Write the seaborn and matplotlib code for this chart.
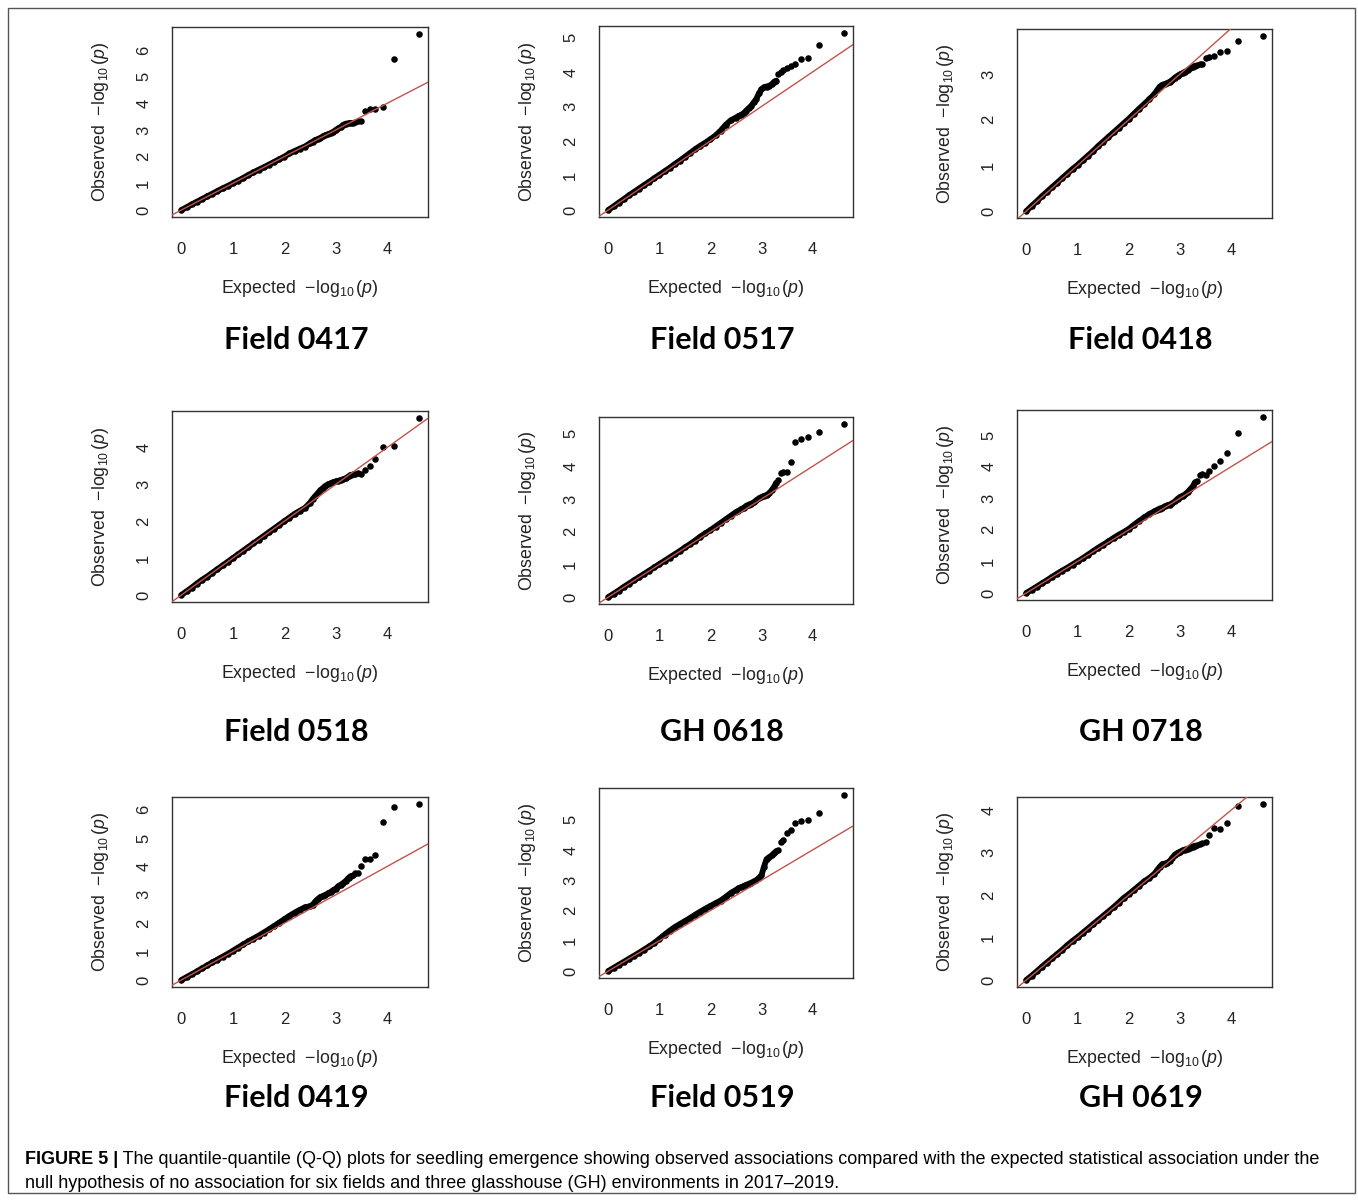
import matplotlib
matplotlib.use("Agg")
import matplotlib.pyplot as plt
import seaborn as sns
import pandas as pd
from matplotlib import font_manager
from matplotlib.patches import Rectangle

expected = [0.0, 0.1, 0.2, 0.3, 0.4, 0.5, 0.6, 0.7, 0.8, 0.9, 1.0, 1.1, 1.2, 1.3,
            1.4, 1.5, 1.6, 1.7, 1.8, 1.9, 2.0, 2.1, 2.2, 2.3, 2.4, 2.5, 2.55, 2.6,
            2.65, 2.7, 2.75, 2.8, 2.85, 2.9, 2.95, 3.0, 3.05, 3.1, 3.15, 3.2, 3.25,
            3.29, 3.33, 3.38, 3.43, 3.50, 3.57, 3.66, 3.77, 3.91, 4.13, 4.61]

# observed -log10(p), one list per environment
obs_field0417 = [0.0, 0.1, 0.21, 0.31, 0.41, 0.51, 0.61, 0.71, 0.81, 0.9, 1.0, 1.1, 1.2, 1.31,
                 1.41, 1.51, 1.6, 1.7, 1.8, 1.9, 2.0, 2.12, 2.21, 2.3, 2.38, 2.5, 2.56, 2.62,
                 2.66, 2.7, 2.76, 2.8, 2.84, 2.88, 2.93, 3.0, 3.06, 3.12, 3.2, 3.24, 3.25,
                 3.26, 3.28, 3.3, 3.32, 3.35, 3.73, 3.77, 3.8, 3.88, 5.68, 6.6]
obs_field0517 = [0.0, 0.1, 0.21, 0.31, 0.42, 0.52, 0.62, 0.72, 0.82, 0.92, 1.02, 1.12, 1.22, 1.33,
                 1.43, 1.54, 1.65, 1.76, 1.86, 1.95, 2.05, 2.16, 2.3, 2.47, 2.6, 2.68, 2.72, 2.76,
                 2.8, 2.88, 2.95, 3.02, 3.12, 3.22, 3.38, 3.5, 3.56, 3.58, 3.6, 3.64, 3.72,
                 3.75, 3.93, 4.0, 4.05, 4.12, 4.18, 4.22, 4.38, 4.41, 4.77, 5.13]
obs_field0418 = [0.0, 0.11, 0.21, 0.32, 0.42, 0.52, 0.62, 0.72, 0.82, 0.92, 1.01, 1.11, 1.21, 1.31,
                 1.42, 1.52, 1.62, 1.72, 1.82, 1.92, 2.02, 2.13, 2.24, 2.34, 2.45, 2.56, 2.64, 2.72,
                 2.76, 2.78, 2.8, 2.83, 2.87, 2.92, 2.96, 2.99, 3.02, 3.05, 3.08, 3.12, 3.15,
                 3.18, 3.2, 3.21, 3.22, 3.35, 3.37, 3.4, 3.48, 3.5, 3.72, 3.83]
obs_field0518 = [0.0, 0.1, 0.2, 0.31, 0.41, 0.5, 0.6, 0.7, 0.8, 0.9, 1.0, 1.1, 1.2, 1.3,
                 1.4, 1.5, 1.6, 1.7, 1.8, 1.9, 2.0, 2.1, 2.2, 2.28, 2.36, 2.5, 2.6, 2.68,
                 2.76, 2.84, 2.9, 2.96, 3.0, 3.03, 3.06, 3.08, 3.1, 3.12, 3.14, 3.17, 3.22,
                 3.26, 3.27, 3.28, 3.3, 3.28, 3.38, 3.5, 3.7, 4.02, 4.04, 4.8]
obs_gh0618 = [0.0, 0.1, 0.2, 0.31, 0.41, 0.51, 0.61, 0.71, 0.81, 0.91, 1.01, 1.11, 1.21, 1.31,
              1.41, 1.52, 1.62, 1.73, 1.85, 1.95, 2.05, 2.16, 2.27, 2.38, 2.49, 2.6, 2.64, 2.69,
              2.73, 2.79, 2.83, 2.86, 2.9, 2.96, 3.02, 3.06, 3.1, 3.12, 3.18, 3.27, 3.38,
              3.5, 3.58, 3.8, 3.82, 3.84, 4.12, 4.74, 4.84, 4.9, 5.05, 5.3]
obs_gh0718 = [0.0, 0.1, 0.2, 0.3, 0.4, 0.51, 0.61, 0.71, 0.8, 0.9, 1.0, 1.1, 1.21, 1.32,
              1.43, 1.53, 1.63, 1.74, 1.84, 1.93, 2.03, 2.16, 2.28, 2.39, 2.5, 2.58, 2.63, 2.67,
              2.7, 2.74, 2.77, 2.8, 2.84, 2.9, 2.98, 3.04, 3.08, 3.12, 3.2, 3.28, 3.38,
              3.5, 3.56, 3.74, 3.76, 3.74, 3.86, 4.03, 4.18, 4.42, 5.05, 5.57]
obs_field0419 = [0.0, 0.1, 0.2, 0.3, 0.41, 0.51, 0.62, 0.72, 0.82, 0.92, 1.03, 1.14, 1.25, 1.36,
                 1.46, 1.56, 1.67, 1.78, 1.9, 2.02, 2.14, 2.26, 2.37, 2.47, 2.56, 2.6, 2.65, 2.76,
                 2.85, 2.92, 2.96, 3.0, 3.05, 3.1, 3.16, 3.22, 3.3, 3.36, 3.42, 3.5, 3.6,
                 3.66, 3.7, 3.76, 3.78, 4.02, 4.27, 4.27, 4.4, 5.55, 6.08, 6.2]
obs_field0519 = [0.0, 0.1, 0.2, 0.3, 0.4, 0.5, 0.6, 0.71, 0.81, 0.93, 1.06, 1.2, 1.33, 1.45,
                 1.55, 1.65, 1.75, 1.86, 1.96, 2.06, 2.15, 2.24, 2.33, 2.45, 2.58, 2.68, 2.73, 2.77,
                 2.81, 2.85, 2.88, 2.92, 2.96, 3.0, 3.08, 3.16, 3.45, 3.7, 3.76, 3.82, 3.9,
                 3.96, 4.0, 4.28, 4.32, 4.56, 4.66, 4.88, 4.95, 4.98, 5.23, 5.82]
obs_gh0619 = [0.0, 0.1, 0.2, 0.31, 0.41, 0.51, 0.61, 0.71, 0.82, 0.92, 1.01, 1.11, 1.21, 1.31,
              1.41, 1.51, 1.61, 1.71, 1.82, 1.93, 2.02, 2.12, 2.22, 2.32, 2.4, 2.5, 2.58, 2.66,
              2.72, 2.74, 2.76, 2.8, 2.88, 2.95, 2.99, 3.02, 3.05, 3.07, 3.09, 3.11, 3.14,
              3.16, 3.18, 3.2, 3.22, 3.24, 3.4, 3.57, 3.56, 3.7, 4.1, 4.14]

panel_titles = ["Field 0417", "Field 0517", "Field 0418",
                "Field 0518", "GH 0618", "GH 0718",
                "Field 0419", "Field 0519", "GH 0619"]
panel_obs = [obs_field0417, obs_field0517, obs_field0418,
             obs_field0518, obs_gh0618, obs_gh0718,
             obs_field0419, obs_field0519, obs_gh0619]

caption_bold = "FIGURE 5 |"
caption_line1 = (" The quantile-quantile (Q-Q) plots for seedling emergence showing observed associations "
                 "compared with the expected statistical association under the")
caption_line2 = "null hypothesis of no association for six fields and three glasshouse (GH) environments in 2017\u20132019."

# ---- layout (pixel boxes of each plot region: left, top, right, bottom) ----
W, H = 1358, 1201
boxes = [(172, 27, 428, 217), (599, 26, 853, 217), (1017, 29, 1272, 218),
         (172, 411, 428, 602), (599, 417, 853, 604), (1017, 410, 1272, 600),
         (172, 797, 428, 987), (599, 788, 853, 978), (1017, 797, 1272, 987)]
title_y = [340, 732, 1098]
dense_end = 3.29  # below this the points overlap into a solid band

sns.set_style("white")
plt.rcParams["font.family"] = ["Liberation Sans", "DejaVu Sans"]
plt.rcParams["mathtext.fontset"] = "custom"
plt.rcParams["mathtext.rm"] = "Liberation Sans"
plt.rcParams["mathtext.it"] = "Liberation Sans:italic"

names = {f.name for f in font_manager.fontManager.ttflist}
cap_font = "Liberation Sans Narrow" if "Liberation Sans Narrow" in names else "Liberation Sans"
title_font = "Lato" if "Lato" in names else "DejaVu Sans"

fig = plt.figure(figsize=(W / 100, H / 100), dpi=100)

for i, (obs, title) in enumerate(zip(panel_obs, panel_titles)):
    l, t, r, b = boxes[i]
    ax = fig.add_axes([l / W, 1 - b / H, (r - l) / W, (b - t) / H])
    df = pd.DataFrame({"expected": expected, "observed": obs})
    dense = df[df["expected"] <= dense_end]
    # the thousands of overlapping points in the bulk form a thick band
    sns.lineplot(data=dense, x="expected", y="observed", ax=ax, color="black",
                 lw=4.2, solid_capstyle="round", sort=False, zorder=1)
    sns.scatterplot(data=df, x="expected", y="observed", ax=ax, color="black",
                    s=22, linewidth=0, zorder=2)
    ax.axline((0, 0), slope=1, color="#c0544c", lw=1.0, zorder=3)

    xmax, ymax = max(expected), max(obs)
    ax.set_xlim(-0.04 * xmax, 1.04 * xmax)
    ax.set_ylim(-0.04 * ymax, 1.04 * ymax)
    ax.set_xticks(range(0, 5))
    ax.set_yticks(range(0, int(ymax) + 1))
    ax.tick_params(axis="both", direction="out", length=5, width=1, color="#333333",
                   labelsize=12, labelcolor="#222222")
    ax.tick_params(axis="x", pad=13)
    ax.tick_params(axis="y", pad=10, labelrotation=90)
    for lab in ax.get_yticklabels():
        lab.set_va("center")
    for sp in ax.spines.values():
        sp.set_color("#333333")
        sp.set_linewidth(1.0)
    ax.set_xlabel(r"Expected  $-\log_{10}(p)$", fontsize=12.8, color="#222222", labelpad=15)
    ax.set_ylabel(r"Observed  $-\log_{10}(p)$", fontsize=12.8, color="#222222", labelpad=18)

    cx = (l + r) / 2 - 4
    fig.text(cx / W, 1 - title_y[i // 3] / H, title, family=title_font, fontweight="bold",
             fontsize=22, ha="center", va="center", color="black")

# caption
fig.canvas.draw()
renderer = fig.canvas.get_renderer()
tb = fig.text(25 / W, 1 - 1159 / H, caption_bold, family=cap_font, fontweight="bold",
              fontsize=13, ha="left", va="center", color="black")
bb = tb.get_window_extent(renderer)
fig.text(bb.x1 / W, 1 - 1159 / H, caption_line1, family=cap_font, fontsize=13,
         ha="left", va="center", color="black")
fig.text(25 / W, 1 - 1183 / H, caption_line2, family=cap_font, fontsize=13,
         ha="left", va="center", color="black")

# outer frame
fig.patches.append(Rectangle((8 / W, 1 - 1193 / H), (1355 - 8) / W, (1193 - 8) / H,
                             transform=fig.transFigure, fill=False, edgecolor="#555555", lw=1.0))

fig.savefig("out.png", dpi=100)
